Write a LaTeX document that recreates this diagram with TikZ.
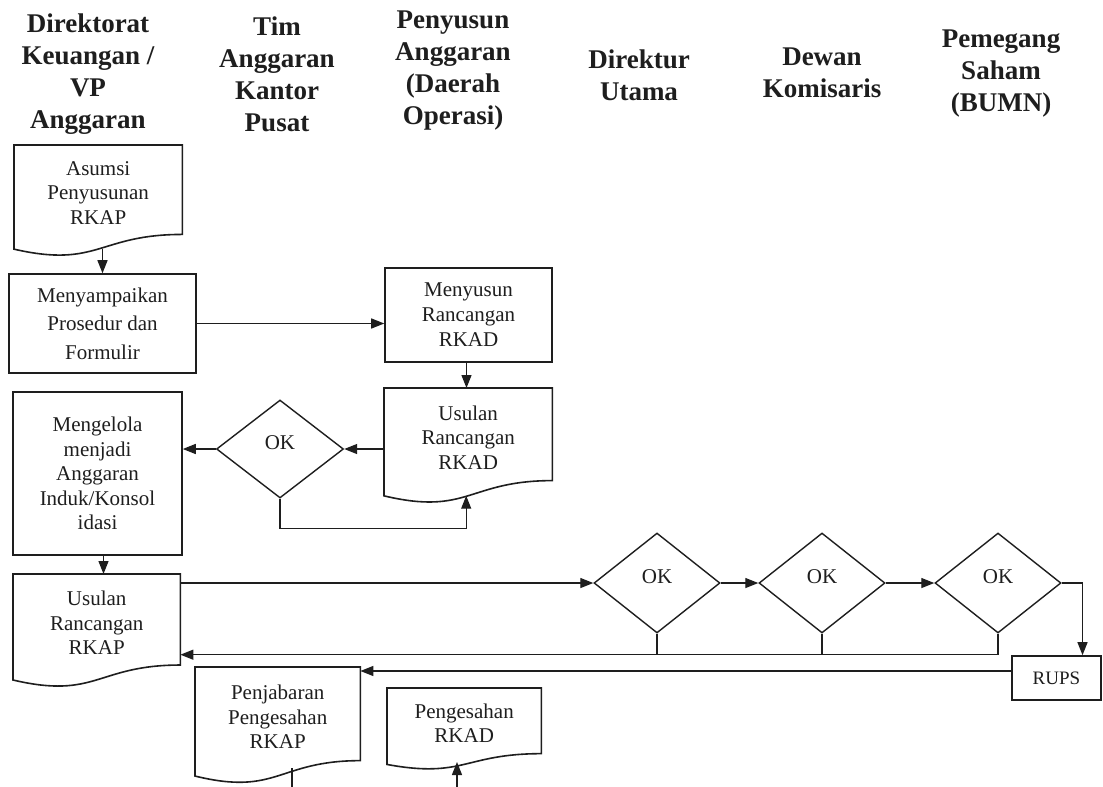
\documentclass[tikz,border=0pt]{standalone}
\usepackage{fontspec}
\setmainfont{Liberation Serif}
\usetikzlibrary{shapes.geometric,arrows.meta,calc}
\definecolor{ink}{HTML}{1E1E1E}
\tikzset{
  hdr/.style={align=center,font=\fontsize{27}{32}\selectfont\bfseries,text=ink,inner sep=0},
  txt/.style={align=center,font=\fontsize{21}{24.5}\selectfont,text=ink,inner sep=0},
  proc/.style={txt,draw=ink,line width=1.6pt,rectangle},
  docnode/.style={txt,rectangle,anchor=north west},
  dec/.style={txt,draw=ink,line width=1.4pt,diamond,minimum width=126,minimum height=100},
  line/.style={draw=ink,line width=1.3pt},
  arr/.style={line,-{Triangle[length=13pt,width=10pt]}},
  boxline/.style={draw=ink,line width=1.6pt}
}
\newcommand{\docshape}[1]{%
  \draw[boxline] (#1.north west) -- (#1.north east)
    -- ($(#1.north east)!0.9326!(#1.south east)$)
    .. controls ($(#1.north)!0.9326!(#1.south)$) and ($(#1.north)!1.2878!(#1.south)$)
    .. ($(#1.north west)!1.086!(#1.south west)$) -- cycle;
  \coordinate (#1-w) at ($(#1.north)!1.085!(#1.south)$);}
\newcommand{\OKtext}{\raisebox{6pt}[\height][\depth]{OK}}
\begin{document}
\begin{tikzpicture}[x=1pt,y=-1pt]
\useasboundingbox[fill=white] (0,0) rectangle (1103,787);
% headers
\node[hdr] (h1) at (88,74) {Direktorat\\Keuangan /\\VP\\Anggaran};
\node[hdr] (h2) at (277,74) {Tim\\Anggaran\\Kantor\\Pusat};
\node[hdr] (h3) at (453,71) {Penyusun\\Anggaran\\(Daerah\\Operasi)};
\node[hdr] (h4) at (639,75) {Direktur\\Utama};
\node[hdr] (h5) at (822,73) {Dewan\\Komisaris};
\node[hdr] (h6) at (1001,74) {Pemegang\\Saham\\(BUMN)};
% document shapes
\node[docnode,minimum width=168,minimum height=95.5] (asumsi) at (14,145) {Asumsi\\Penyusunan\\RKAP};
\docshape{asumsi}
\node[docnode,minimum width=168,minimum height=98.9] (rkad) at (384,388) {Usulan\\Rancangan\\RKAD};
\docshape{rkad}
\node[docnode,minimum width=167,minimum height=97.2] (rkap) at (13,574) {Usulan\\Rancangan\\RKAP};
\docshape{rkap}
\node[docnode,minimum width=165,minimum height=100] (penjabaran) at (195,667) {Penjabaran\\Pengesahan\\RKAP};
\docshape{penjabaran}
\node[docnode,minimum width=154,minimum height=70] (pengesahan) at (387,688) {Pengesahan\\RKAD};
\docshape{pengesahan}
% process boxes
\node[proc,minimum width=187,minimum height=99,font=\fontsize{21}{28.5}\selectfont] (menyampaikan) at (102.5,323.5) {Menyampaikan\\Prosedur dan\\Formulir};
\node[proc,minimum width=167,minimum height=94,font=\fontsize{21}{25}\selectfont] (menyusun) at (468.5,315) {Menyusun\\Rancangan\\RKAD};
\node[proc,minimum width=169,minimum height=163] (mengelola) at (97.5,473.5) {Mengelola\\menjadi\\Anggaran\\Induk/Konsol\\idasi};
\node[proc,minimum width=89,minimum height=44,font=\fontsize{19}{22}\selectfont] (rups) at (1056.5,678) {RUPS};
% decisions
\node[dec,minimum height=98,minimum width=127] (ok1) at (280,449) {\OKtext};
\node[dec] (okA) at (657,583) {\OKtext};
\node[dec] (okB) at (822,583) {\OKtext};
\node[dec] (okC) at (998,583) {\OKtext};
% connectors
\draw[arr] (menyampaikan.north |- asumsi-w) -- (menyampaikan.north);
\draw[arr] (menyampaikan.east) -- (menyampaikan.east -| menyusun.west);
\draw[arr] ([xshift=-2]menyusun.south) -- ([xshift=-2]menyusun.south |- rkad.north);
\draw[arr] (ok1.east -| rkad.west) -- (ok1.east);
\draw[arr] (ok1.west) -- (ok1.west -| mengelola.east);
\draw[arr] (ok1.south) -- ++(0,30) -| ([xshift=-2]rkad-w);
\draw[arr] ([xshift=6]mengelola.south) -- ([xshift=6]mengelola.south |- rkap.north);
\draw[arr] (okA.west -| rkap.east) -- (okA.west);
\draw[arr] (okA.east) -- (okB.west);
\draw[arr] (okB.east) -- (okC.west);
\draw[arr] (okC.east) -| ([xshift=26]rups.north);
\draw[arr] (okC.south) -- ++(0,21) coordinate (retC) -- (retC -| rkap.east);
\draw[line] (okA.south) -- (okA.south |- retC);
\draw[line] (okB.south) -- (okB.south |- retC);
\draw[arr] ([yshift=7]rups.west) -- ([yshift=7]rups.west -| penjabaran.east);
\coordinate (pjout) at (292,768);
\coordinate (pjend) at (292,787);
\draw[line] (pjout) -- (pjend);
\coordinate (psin) at (457,787);
\coordinate (pstip) at (457,762);
\draw[arr] (psin) -- (pstip);
\end{tikzpicture}
\end{document}
